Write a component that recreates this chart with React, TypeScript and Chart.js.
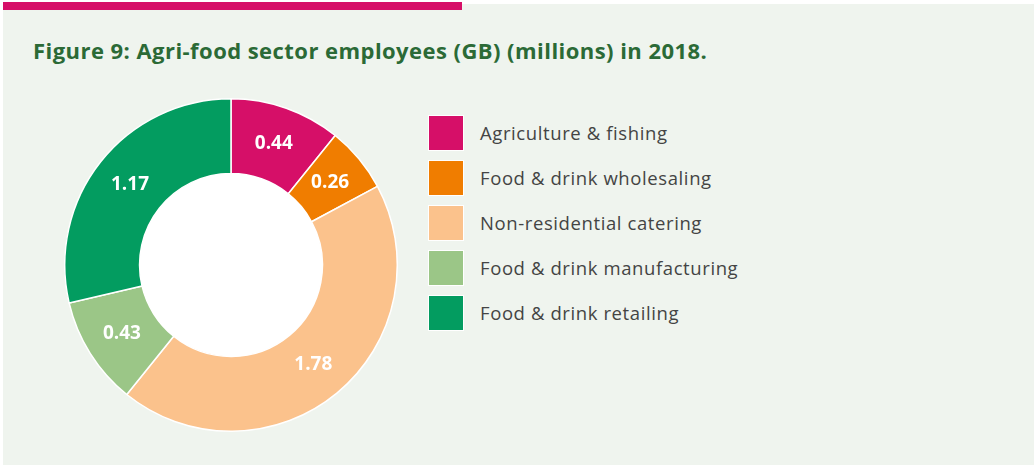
import React, { useEffect, useRef } from "react";
import { Chart, registerables } from "chart.js";

Chart.register(...registerables);

const TITLE = "Figure 9: Agri-food sector employees (GB) (millions) in 2018.";
const categories = [
  "Agriculture & fishing",
  "Food & drink wholesaling",
  "Non-residential catering",
  "Food & drink manufacturing",
  "Food & drink retailing",
];
const employees = [0.44, 0.26, 1.78, 0.43, 1.17];
const colors = ["#D60F68", "#F07D00", "#FBC28C", "#9BC687", "#039C60"];

const labelPlugin = {
  id: "sliceLabels",
  beforeDatasetsDraw(chart: any) {
    const meta = chart.getDatasetMeta(0);
    const arc = meta.data[0];
    if (!arc) return;
    const ctx = chart.ctx;
    ctx.save();
    ctx.beginPath();
    ctx.arc(arc.x, arc.y, arc.innerRadius, 0, Math.PI * 2);
    ctx.fillStyle = "#FFFFFF";
    ctx.fill();
    ctx.restore();
  },
  afterDatasetsDraw(chart: any) {
    const meta = chart.getDatasetMeta(0);
    const ctx = chart.ctx;
    ctx.save();
    ctx.fillStyle = "#FFFFFF";
    ctx.font = "700 19px 'Open Sans'";
    ctx.textAlign = "center";
    ctx.textBaseline = "middle";
    meta.data.forEach((el: any, i: number) => {
      const p = el.tooltipPosition();
      ctx.fillText(employees[i].toFixed(2), p.x, p.y);
    });
    ctx.restore();
  },
};

function Donut() {
  const ref = useRef<HTMLCanvasElement | null>(null);
  useEffect(() => {
    if (!ref.current) return;
    const chart = new Chart(ref.current, {
      type: "doughnut",
      data: {
        labels: categories,
        datasets: [
          {
            data: employees,
            backgroundColor: colors,
            borderColor: "#FFFFFF",
            borderWidth: 1.5,
          },
        ],
      },
      options: {
        animation: false,
        responsive: false,
        maintainAspectRatio: false,
        cutout: "55%",
        layout: { padding: 0 },
        plugins: { legend: { display: false }, tooltip: { enabled: false } },
      },
      plugins: [labelPlugin],
    });
    return () => chart.destroy();
  }, []);
  return (
    <canvas
      ref={ref}
      width={334}
      height={334}
      style={{ position: "absolute", left: 64, top: 98, width: 334, height: 334 }}
    />
  );
}

export default function App() {
  useEffect(() => {
    document.body.style.margin = "0";
  }, []);
  return (
    <div
      style={{
        position: "relative",
        width: 1034,
        height: 465,
        background: "#FFFFFF",
        overflow: "hidden",
        fontFamily: "'Open Sans', sans-serif",
      }}
    >
      <div
        style={{
          position: "absolute",
          left: 3,
          top: 4,
          width: 1031,
          height: 461,
          background: "#EFF4EE",
        }}
      />
      <div
        style={{
          position: "absolute",
          left: 3,
          top: 2,
          width: 459,
          height: 8,
          background: "#D60F68",
        }}
      />
      <div
        style={{
          position: "absolute",
          left: 33,
          top: 36,
          fontSize: 22,
          fontWeight: 700,
          letterSpacing: 0.45,
          color: "#2B6A36",
          whiteSpace: "nowrap",
          lineHeight: "28px",
        }}
      >
        {TITLE}
      </div>
      <Donut />
      {categories.map((c, i) => (
        <div key={c}>
          <div
            style={{
              position: "absolute",
              left: 428,
              top: 115 + i * 45,
              width: 36,
              height: 36,
              background: colors[i],
              boxSizing: "border-box",
              border: "1px solid #FFFFFF",
            }}
          />
          <div
            style={{
              position: "absolute",
              left: 480,
              top: 120 + i * 45,
              fontSize: 18.5,
              letterSpacing: 0.6,
              color: "#444444",
              lineHeight: "26px",
              whiteSpace: "nowrap",
            }}
          >
            {c}
          </div>
        </div>
      ))}
    </div>
  );
}
